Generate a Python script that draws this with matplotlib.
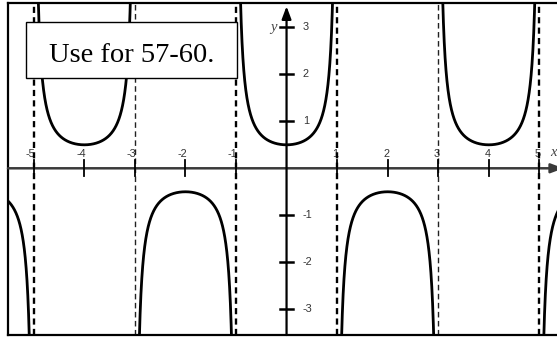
import numpy as np
import matplotlib
matplotlib.use("Agg")
import matplotlib.pyplot as plt
from matplotlib.patches import Rectangle

# y = a * sec(b * x)
amplitude = 0.5
period = 4.0
asymptotes_bold = [-5, -1, 1, 5]
asymptotes_thin = [-3, 3]
x_ticks = [-5, -4, -3, -2, -1, 1, 2, 3, 4, 5]
y_ticks = [-3, -2, -1, 1, 2, 3]
xlim = (-5.51, 5.46)
ylim = (-3.55, 3.52)
note = "Use for 57-60."

W, H = 557, 337
fig = plt.figure(figsize=(W / 100, H / 100), dpi=100)
ax = fig.add_axes([8 / W, 2 / H, 1 - 8 / W + 0.01, 1 - 5 / H])
ax.set_xlim(*xlim)
ax.set_ylim(*ylim)
ax.set_xticks([])
ax.set_yticks([])
for side in ["left", "top", "bottom"]:
    ax.spines[side].set_linewidth(1.6)
    ax.spines[side].set_color("black")
ax.spines["right"].set_visible(False)

axis_col = "#3a3a3a"
lab_col = "#333333"

# asymptotes
for a in asymptotes_bold:
    ax.axvline(a, color="black", lw=1.7, ls=(0, (2.6, 1.8)), zorder=2)
for a in asymptotes_thin:
    ax.axvline(a, color="#222222", lw=1.0, ls=(0, (4, 2.5)), zorder=2)

# coordinate axes with arrowheads
ax.annotate("", xy=(xlim[1] + 0.02, 0), xytext=(xlim[0], 0),
            arrowprops=dict(arrowstyle="-|>,head_length=0.75,head_width=0.28",
                            color=axis_col, lw=1.8, shrinkA=0, shrinkB=0),
            annotation_clip=False, zorder=3)
ax.annotate("", xy=(0, 3.45), xytext=(0, ylim[0]),
            arrowprops=dict(arrowstyle="-|>,head_length=0.75,head_width=0.28",
                            color="black", lw=1.6, shrinkA=0, shrinkB=0),
            annotation_clip=False, zorder=3)

# ticks and labels
for t in x_ticks:
    ax.plot([t, t], [-0.17, 0.17], color="black", lw=1.3, zorder=3)
    ax.text(t + 0.03, 0.31, str(t), ha="right", va="center", fontsize=7.8,
            family="Liberation Sans", color=lab_col, zorder=1)
for t in y_ticks:
    ax.plot([-0.13, 0.13], [t, t], color="black", lw=1.8, zorder=3)
    ax.text(0.32, t, str(t), ha="left", va="center", fontsize=7.8,
            family="Liberation Sans", color=lab_col)
ax.text(-0.26, 3.0, "y", ha="center", va="center", fontsize=10.5,
        family="Liberation Serif", style="italic", color="#444444")
ax.text(5.27, 0.34, "x", ha="center", va="center", fontsize=10.5,
        family="Liberation Serif", style="italic", color="#444444")

# the secant curve, one branch at a time
b = 2 * np.pi / period
edges = np.arange(-7, 8, 2)
for lo, hi in zip(edges[:-1], edges[1:]):
    xs = np.linspace(lo + 1e-4, hi - 1e-4, 2000)
    ys = amplitude / np.cos(b * xs)
    m = np.abs(ys) < 5
    ax.plot(xs[m], ys[m], color="black", lw=2.0, zorder=4, clip_on=True)

# note box
fig.patches.append(Rectangle((26 / W, 1 - 78 / H), 211 / W, 56 / H,
                             transform=fig.transFigure, facecolor="white",
                             edgecolor="black", lw=1.0, zorder=10))
fig.text(131.5 / W, 1 - 62 / H, note, ha="center", va="baseline",
         fontsize=20.5, family="Liberation Serif", color="black", zorder=11)

fig.savefig("out.png", dpi=100)
